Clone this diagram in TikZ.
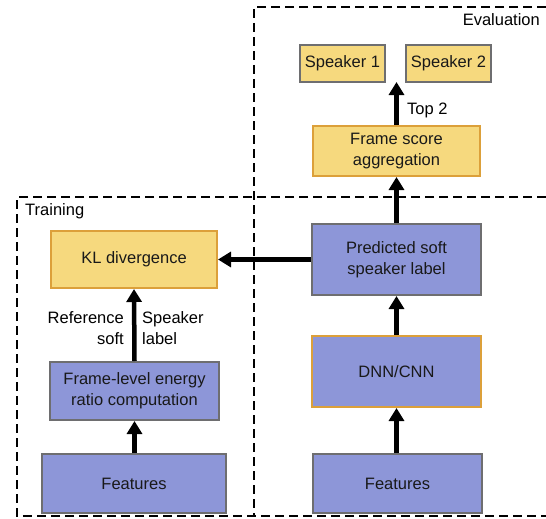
\documentclass[tikz,border=0pt]{standalone}
\usepackage{fontspec}
\setmainfont{Liberation Sans}
\usetikzlibrary{arrows.meta}
\definecolor{yel}{HTML}{F6D97E}
\definecolor{orng}{HTML}{DCA03A}
\definecolor{blu}{HTML}{8D96D8}
\definecolor{gbord}{HTML}{6E6E70}
\tikzset{
  box/.style={draw, line width=2pt, inner sep=0pt, align=center, font=\fontsize{16.5}{21}\selectfont, text=black!90},
  ybox/.style={box, fill=yel},
  bbox/.style={box, fill=blu},
  flow/.style={line width=4.5pt, -{Triangle[width=15pt,length=13pt]}},
  region/.style={dashed, line width=1.4pt, dash pattern=on 9pt off 5pt},
  lbl/.style={font=\fontsize{16.5}{21}\selectfont, inner sep=0pt}
}
\begin{document}
\begin{tikzpicture}[x=1pt,y=-1pt]
\useasboundingbox (0,0) rectangle (546,519);
% regions
\draw[region] (546,7) -- (254,7) -- (254,516);
\draw[region] (546,197) -- (17,197) -- (17,516) -- (546,516);
\node[lbl, anchor=east] (evl) at (540,20) {Evaluation};
\node[lbl, anchor=west] (trl) at (25,211) {Training};
% nodes
\node[ybox, draw=gbord, minimum width=85pt, minimum height=37pt] (s1) at (342.5,63.5) {Speaker 1};
\node[ybox, draw=gbord, minimum width=85pt, minimum height=37pt] (s2) at (448.5,63.5) {Speaker 2};
\node[ybox, draw=orng, minimum width=167pt, minimum height=50pt] (fsa) at (396.5,151) {Frame score\\aggregation};
\node[bbox, draw=gbord, minimum width=169pt, minimum height=71pt] (pred) at (396.5,259.5) {Predicted soft\\speaker label};
\node[bbox, draw=orng, minimum width=169pt, minimum height=71pt] (dnn) at (396.5,371.5) {DNN/CNN};
\node[bbox, draw=gbord, minimum width=169pt, minimum height=59pt] (fr) at (397.5,483.5) {Features};
\node[ybox, draw=orng, minimum width=166pt, minimum height=57pt] (kl) at (134,259.5) {KL divergence};
\node[bbox, draw=gbord, minimum width=169pt, minimum height=58pt] (fl) at (134.5,391) {Frame-level energy\\ratio computation};
\node[bbox, draw=gbord, minimum width=184pt, minimum height=59pt] (fl0) at (134,483.5) {Features};
% connectors
\draw[flow] (fr.north -| dnn.south) -- (dnn.south);
\draw[flow] (dnn.north) -- (pred.south);
\draw[flow] (pred.north) -- (fsa.south);
\coordinate (top) at (396.5,82);
\draw[flow] (fsa.north) -- (top);
\draw[flow] (pred.west) -- (kl.east);
\draw[flow] (fl0.north -| fl.south) -- (fl.south);
\draw[flow] (fl.north) -- (kl.south);
% labels
\node[lbl, anchor=west] (t2) at (407,110) {Top 2};
\node[lbl, anchor=east, align=right] (ref) at (124,328) {Reference\\soft};
\node[lbl, anchor=west, align=left] (spk) at (142,328) {Speaker\\label};
\end{tikzpicture}
\end{document}
